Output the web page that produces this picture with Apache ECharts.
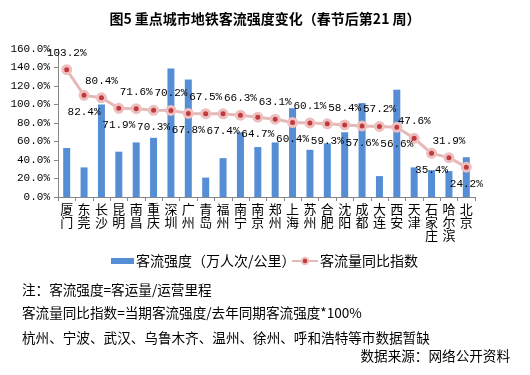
<!DOCTYPE html>
<html><head><meta charset="utf-8">
<script src="https://cdn.jsdelivr.net/npm/echarts@6/dist/echarts.min.js"></script>
<style>html,body{margin:0;padding:0;background:#fff}#c{width:530px;height:375px}</style>
</head><body><div id="c"></div>
<script>
const cities = ['厦门','东莞','长沙','昆明','南昌','重庆','深圳','广州','青岛','福州','南宁','南京','郑州','上海','苏州','合肥','沈阳','成都','大连','西安','天津','石家庄','哈尔滨','北京'];
const intensity = [53,32,100,49,59,64,139,127,21,42,70,54,59,96,51,58,70,101.5,22.6,116,32,29,28,43];
const yoyIndex = [103.2,82.4,80.4,71.9,71.6,70.3,70.2,67.8,67.5,67.4,66.3,64.7,63.1,60.4,60.1,59.3,58.4,57.6,57.2,56.6,47.6,35.4,31.9,24.2];
const yTicks = [0,20,40,60,80,100,120,140,160];
const barName = '客流强度（万人次/公里）';
const lineName = '客流量同比指数';
const titleText = '图5 重点城市地铁客流强度变化（春节后第21 周）';
const notes = ['注：客流强度=客运量/运营里程','客流量同比指数=当期客流强度/去年同期客流强度*100%','杭州、宁波、武汉、乌鲁木齐、温州、徐州、呼和浩特等市数据暂缺'];
const sourceText = '数据来源：网络公开资料';

const monoFont = '"Liberation Mono", "DejaVu Sans Mono", monospace';
const cjk = '"Noto Sans CJK SC", sans-serif';

const chart = echarts.init(document.getElementById('c'), null, {renderer:'canvas'});
const lineData = yoyIndex.map((v,i)=>({
  value: v,
  label: {position: i%2===0 ? 'top' : 'bottom'}
}));
chart.setOption({
  animation:false,
  title:{text:titleText,left:'center',top:7,textStyle:{fontFamily:cjk,fontSize:14,fontWeight:'bold',color:'#000'}},
  grid:{left:58,right:55,top:49,bottom:178,containLabel:false},
  legend:[
    {data:[{name:barName,icon:'rect'}],left:106,top:249,itemWidth:23,itemHeight:6,itemGap:0,
     textStyle:{fontFamily:cjk,fontSize:14,color:'#000',padding:[0,0,0,-3]}},
    {data:[{name:lineName}],left:286,top:249,itemWidth:26,itemHeight:8,
     textStyle:{fontFamily:cjk,fontSize:14,color:'#000',padding:[0,0,0,-3]}}
  ],
  xAxis:{type:'category',data:cities,boundaryGap:true,
    axisLine:{lineStyle:{color:'#868686',width:1}},
    axisTick:{show:true,alignWithLabel:false,length:4,lineStyle:{color:'#868686'}},
    axisLabel:{interval:0,margin:6,color:'#000',fontFamily:cjk,fontSize:13,lineHeight:13,
      formatter:v=>v.split('').join('\n'),verticalAlign:'top'}},
  yAxis:[
    {type:'value',min:0,max:160,interval:20,
     axisLine:{show:true,lineStyle:{color:'#868686'}},
     axisTick:{show:true,length:4,lineStyle:{color:'#868686'}},
     splitLine:{show:false},
     axisLabel:{margin:8,color:'#000',fontFamily:monoFont,fontSize:11,
       formatter:v=>yTicks.includes(v)?v.toFixed(1)+'%':''}},
    {type:'value',min:0,max:120,show:false,splitLine:{show:false}}
  ],
  series:[
    {name:barName,type:'bar',data:intensity,barWidth:7,yAxisIndex:0,
     itemStyle:{color:'#558ED5'}},
    {name:lineName,type:'line',data:lineData,yAxisIndex:1,z:5,
     symbol:'circle',symbolSize:8,
     lineStyle:{color:'#E6B9B8',width:3},
     itemStyle:{color:'#C0393B',borderColor:'#EDBFBF',borderWidth:3},
     label:{show:true,distance:6,color:'#000',fontFamily:monoFont,fontSize:11,
       formatter:p=>p.value.toFixed(1)+'%'}}
  ],
  graphic:[
    ...notes.map((t,i)=>({type:'text',left:22,top:[283,306,331][i],
      style:{text:t,font:'13.6px '+cjk,fill:'#000'}})),
    {type:'text',right:20,top:349,style:{text:sourceText,font:'13.6px '+cjk,fill:'#000'}}
  ]
});
</script></body></html>
